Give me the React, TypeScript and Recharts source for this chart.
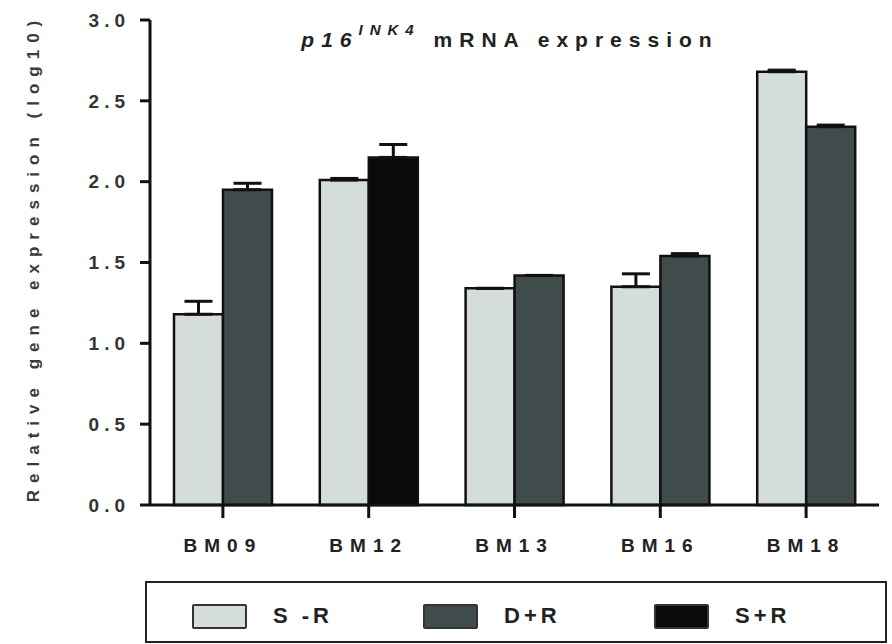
import { BarChart, Bar, XAxis, YAxis, ErrorBar, Cell } from 'recharts'

const categories = ['BM09', 'BM12', 'BM13', 'BM16', 'BM18']
const sMinusR = [1.18, 2.01, 1.34, 1.35, 2.68]
const sMinusRErr = [0.08, 0.01, 0, 0.08, 0.01]
const dPlusR: (number | null)[] = [1.95, null, 1.42, 1.54, 2.34]
const dPlusRErr: (number | null)[] = [0.04, null, 0, 0.015, 0.01]
const sPlusR: (number | null)[] = [null, 2.15, null, null, null]
const sPlusRErr: (number | null)[] = [null, 0.08, null, null, null]
const yTicks = [0, 0.5, 1.0, 1.5, 2.0, 2.5, 3.0]

const LIGHT = '#d5dcdc'
const DARK = '#404c4c'
const BLACK = '#0a0a0a'
const FONT = '"Liberation Sans", Arial, sans-serif'

// second bar in each group is either D+R or S+R
const chartData = categories.map((name, i) => {
  const isSPlus = sPlusR[i] != null
  return {
    name,
    sr: sMinusR[i],
    srErr: [0, sMinusRErr[i]],
    second: isSPlus ? sPlusR[i] : dPlusR[i],
    secondErr: [0, (isSPlus ? sPlusRErr[i] : dPlusRErr[i]) ?? 0],
    secondColor: isSPlus ? BLACK : DARK,
  }
})

const legendItems = [
  { label: 'S -R', color: LIGHT },
  { label: 'D+R', color: DARK },
  { label: 'S+R', color: BLACK },
]

function LegendBox() {
  return (
    <div
      style={{
        position: 'absolute',
        left: 145,
        top: 581,
        width: 742,
        height: 62,
        border: '2.5px solid #222',
        fontFamily: FONT,
        boxSizing: 'border-box',
      }}
    >
      {legendItems.map((it, i) => (
        <div
          key={it.label}
          style={{ position: 'absolute', left: 45 + i * 231, top: 20, display: 'flex', alignItems: 'center' }}
        >
          <span
            style={{
              display: 'inline-block',
              width: 55,
              height: 25,
              background: it.color,
              border: '2.5px solid #333',
              boxSizing: 'border-box',
              borderRadius: 2,
            }}
          />
          <span style={{ marginLeft: 26, fontSize: 22, fontWeight: 'bold', letterSpacing: 4, color: '#222' }}>
            {it.label}
          </span>
        </div>
      ))}
    </div>
  )
}

export default function App() {
  return (
    <div style={{ position: 'absolute', left: 0, top: 0, width: 892, height: 644, background: '#fff' }}>
      <BarChart
        width={892}
        height={644}
        data={chartData}
        margin={{ top: 20, right: 13, bottom: 109, left: 70 }}
        barSize={49}
        barGap={0}
      >
        <text
          x={510}
          y={47}
          textAnchor="middle"
          style={{ fontFamily: FONT, fontSize: 21, fontWeight: 'bold', letterSpacing: 7, fill: '#222' }}
        >
          <tspan fontStyle="italic">p16</tspan>
          <tspan fontStyle="italic" fontSize={15} dy={-12}>INK4</tspan>
          <tspan dy={12}> mRNA expression</tspan>
        </text>
        <text
          transform="translate(39, 258) rotate(-90)"
          textAnchor="middle"
          style={{ fontFamily: FONT, fontSize: 17, fontWeight: 'bold', letterSpacing: 7, fill: '#3a3a3a' }}
        >
          Relative gene expression (log10)
        </text>
        <XAxis
          dataKey="name"
          height={30}
          tickLine={{ stroke: '#111', strokeWidth: 3 }}
          tickSize={13}
          axisLine={{ stroke: '#111', strokeWidth: 3 }}
          tick={{ fontSize: 19, fill: '#222', fontFamily: FONT, fontWeight: 'bold', letterSpacing: 7 }}
          tickMargin={21}
        />
        <YAxis
          width={80}
          domain={[0, 3]}
          ticks={yTicks}
          tickFormatter={(v: number) => v.toFixed(1)}
          tickLine={{ stroke: '#111', strokeWidth: 3 }}
          tickSize={10}
          axisLine={{ stroke: '#111', strokeWidth: 3 }}
          tick={{ fontSize: 19, fill: '#333', fontFamily: FONT, fontWeight: 'bold', letterSpacing: 5 }}
          tickMargin={10}
        />
        <Bar dataKey="sr" fill={LIGHT} stroke="#111" strokeWidth={2.5} isAnimationActive={false}>
          <ErrorBar dataKey="srErr" width={14} stroke="#111" strokeWidth={3} direction="y" />
        </Bar>
        <Bar dataKey="second" fill={DARK} stroke="#111" strokeWidth={2.5} isAnimationActive={false}>
          {chartData.map((d) => (
            <Cell key={d.name} fill={d.secondColor} />
          ))}
          <ErrorBar dataKey="secondErr" width={14} stroke="#111" strokeWidth={3} direction="y" />
        </Bar>
      </BarChart>
      <LegendBox />
    </div>
  )
}
